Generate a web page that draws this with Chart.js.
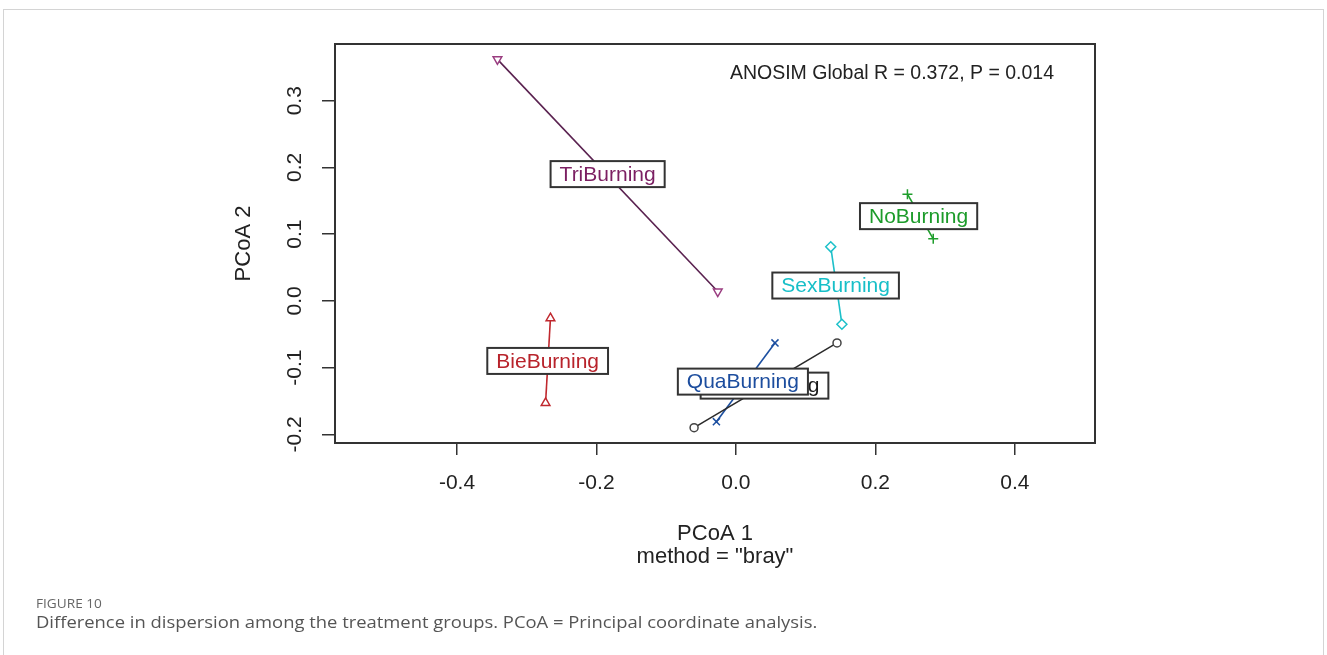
<!DOCTYPE html>
<html>
<head>
<meta charset="utf-8">
<title>PCoA dispersion</title>
<script src="https://cdn.jsdelivr.net/npm/chart.js@4.4.1/dist/chart.umd.min.js"></script>
<style>
  html, body { margin: 0; padding: 0; background: #fff; }
  body { width: 1327px; height: 655px; position: relative; overflow: hidden; }
  #frame { position: absolute; left: 3px; top: 9px; width: 1319px; height: 700px; border: 1px solid #d4d4d4; }
  #plot { position: absolute; left: 0; top: 0; }
  .cap { position: absolute; left: 36px; font-family: 'Open Sans', sans-serif; white-space: nowrap; transform-origin: left top; }
  #figno { top: 594px; font-size: 13px; color: #666; transform: scaleX(1.05); }
  #figtxt { top: 611px; font-size: 16px; color: #555; transform: scaleX(1.15); }
</style>
</head>
<body>
<div id="frame"></div>
<canvas id="plot" width="1327" height="655"></canvas>
<div class="cap" id="figno">FIGURE 10</div>
<div class="cap" id="figtxt">Difference in dispersion among the treatment groups. PCoA = Principal coordinate analysis.</div>

<script>
// ===== Data =====
const groups = ['PenBurning', 'BieBurning', 'NoBurning', 'QuaBurning', 'SexBurning', 'TriBurning'];
const pcoa1 = [[-0.060, 0.145], [-0.266, -0.273], [0.246, 0.283], [-0.028, 0.056], [0.136, 0.152], [-0.342, -0.026]];
const pcoa2 = [[-0.190, -0.063], [-0.026, -0.153], [0.160, 0.093], [-0.181, -0.063], [0.081, -0.035], [0.362, 0.014]];
// group label (centroid) positions
const labelX = [0.041, -0.270, 0.262, 0.010, 0.143, -0.184];
const labelY = [-0.127, -0.090, 0.127, -0.121, 0.023, 0.190];

const xTicks = [-0.4, -0.2, 0, 0.2, 0.4];
const xTickLabels = ['-0.4', '-0.2', '0.0', '0.2', '0.4'];
const yTicks = [-0.2, -0.1, 0, 0.1, 0.2, 0.3];
const yTickLabels = ['-0.2', '-0.1', '0.0', '0.1', '0.2', '0.3'];

// ===== Styles =====
const lineColors = ['#2a2a2a', '#c0282e', '#1f9e2c', '#1c4fa0', '#1cc0c9', '#5a2250'];
const textColors = ['#1a1a1a', '#b8232b', '#1c9b2a', '#1c4d9e', '#17bfc8', '#7b1f62'];
const markerColors = ['#444444', '#c0282e', '#1f9e2c', '#1c4fa0', '#1cc0c9', '#9a3d80'];
const markers = ['circle', 'triangle', 'cross', 'crossRot', 'rectRot', 'triangle'];
const markerRot = [0, 0, 0, 0, 0, 180];

const FONT = "'Liberation Sans', Arial, Helvetica, sans-serif";

const datasets = groups.map((g, i) => ({
  label: g,
  data: pcoa1[i].map((x, k) => ({ x, y: pcoa2[i][k] })),
  showLine: true,
  borderColor: lineColors[i],
  borderWidth: 1.6,
  pointStyle: markers[i],
  rotation: markerRot[i],
  pointRadius: markers[i] === 'circle' ? 4 : 5,
  pointBorderColor: markerColors[i],
  pointBackgroundColor: '#fff',
  pointBorderWidth: 1.5
}));

// ===== Extra drawing: frame box, rotated y labels, titles, boxed group labels =====
const decorations = {
  id: 'decorations',
  afterDatasetsDraw(chart) {
    const { ctx, chartArea: a, scales: { x, y } } = chart;
    ctx.save();

    // plot frame
    ctx.strokeStyle = '#333';
    ctx.lineWidth = 2;
    ctx.strokeRect(a.left, a.top, a.right - a.left, a.bottom - a.top);

    // y tick labels, parallel to the axis (R las = 0)
    ctx.fillStyle = '#222';
    ctx.font = `21px ${FONT}`;
    ctx.textAlign = 'center';
    ctx.textBaseline = 'middle';
    yTicks.forEach((v, i) => {
      ctx.save();
      ctx.translate(a.left - 40, y.getPixelForValue(v));
      ctx.rotate(-Math.PI / 2);
      ctx.fillText(yTickLabels[i], 0, 0);
      ctx.restore();
    });

    // axis titles
    const midX = (a.left + a.right) / 2;
    ctx.font = `22px ${FONT}`;
    ctx.fillText('PCoA 1', midX, a.bottom + 91);
    ctx.fillText('method = "bray"', midX, a.bottom + 114);
    ctx.save();
    ctx.translate(a.left - 91, (a.top + a.bottom) / 2);
    ctx.rotate(-Math.PI / 2);
    ctx.fillText('PCoA 2', 0, 0);
    ctx.restore();

    // ANOSIM note
    ctx.font = `19.5px ${FONT}`;
    ctx.textAlign = 'right';
    ctx.fillText('ANOSIM Global R = 0.372, P = 0.014', a.right - 41, a.top + 30);

    // boxed group labels
    ctx.font = `21px ${FONT}`;
    ctx.textAlign = 'center';
    groups.forEach((g, i) => {
      const cx = x.getPixelForValue(labelX[i]);
      const cy = y.getPixelForValue(labelY[i]);
      const w = ctx.measureText(g).width + 18;
      const h = 26;
      ctx.fillStyle = '#fff';
      ctx.fillRect(cx - w / 2, cy - h / 2, w, h);
      ctx.strokeStyle = '#333';
      ctx.lineWidth = 2;
      ctx.strokeRect(cx - w / 2, cy - h / 2, w, h);
      ctx.fillStyle = textColors[i];
      ctx.fillText(g, cx, cy + 1);
    });

    ctx.restore();
  }
};

new Chart(document.getElementById('plot'), {
  type: 'scatter',
  data: { datasets },
  options: {
    responsive: false,
    animation: false,
    events: [],
    layout: { padding: { top: 44, right: 232, bottom: 0, left: 0 } },
    plugins: { legend: { display: false }, tooltip: { enabled: false } },
    scales: {
      x: {
        type: 'linear',
        min: -0.575,
        max: 0.515,
        afterBuildTicks: s => { s.ticks = xTicks.map(v => ({ value: v })); },
        afterFit: s => { s.height = 212; },
        grid: { drawOnChartArea: false, drawTicks: true, tickLength: 12, color: '#333', lineWidth: 1.5 },
        border: { display: true, color: '#333', width: 2 },
        ticks: {
          padding: 16,
          color: '#222',
          font: { family: FONT, size: 21 },
          callback: (v, i) => xTickLabels[i]
        }
      },
      y: {
        type: 'linear',
        min: -0.213,
        max: 0.385,
        afterBuildTicks: s => { s.ticks = yTicks.map(v => ({ value: v })); },
        afterFit: s => { s.width = 335; },
        grid: { drawOnChartArea: false, drawTicks: true, tickLength: 13, color: '#333', lineWidth: 1.5 },
        border: { display: true, color: '#333', width: 2 },
        ticks: {
          color: 'rgba(0,0,0,0)',
          font: { family: FONT, size: 21 },
          callback: (v, i) => yTickLabels[i]
        }
      }
    }
  },
  plugins: [decorations]
});
</script>
</body>
</html>
